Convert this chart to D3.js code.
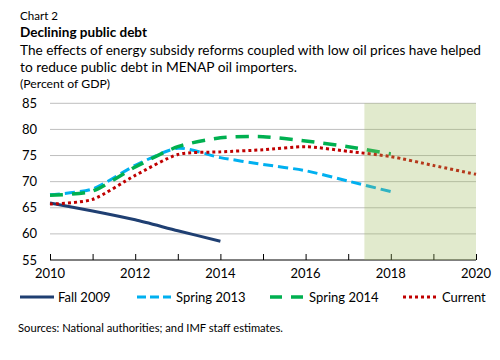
<!DOCTYPE html>
<html>
<head>
<meta charset="utf-8">
<script src="https://cdn.jsdelivr.net/npm/d3@7"></script>
<style>
  body { margin: 0; background: #fff; }
  svg text { font-family: Lato, "Open Sans", sans-serif; fill: #000; }
</style>
</head>
<body>
<svg id="chart" width="500" height="360"></svg>
<script>
// values
let years = [2010, 2011, 2012, 2013, 2014, 2015, 2016, 2017, 2018, 2019, 2020];
let fall2009 = [65.9, 64.4, 62.7, 60.6, 58.6];
let spring2013 = [67.5, 68.6, 73.1, 76.4, 74.6, 73.3, 72.1, 70.1, 68.1];
let spring2014 = [67.4, 68.2, 72.8, 76.7, 78.4, 78.6, 77.8, 76.7, 75.3];
let current = [65.7, 66.6, 71.2, 75.2, 75.7, 76.1, 76.7, 75.8, 74.8, 73.1, 71.4];
let yTicks = [55, 60, 65, 70, 75, 80, 85];
let xLabels = [2010, 2012, 2014, 2016, 2018, 2020];
let shadeStart = 2017.38;

let seriesNames = ['Fall 2009', 'Spring 2013', 'Spring 2014', 'Current'];
let seriesColors = ['#1F3F72', '#00B0F0', '#00B050', '#C00000'];
let seriesDash = [null, '10,5', '13,9', '3,3'];
let seriesWidth = [3, 3, 3.5, 3];

let svg = d3.select('#chart');

let x = d3.scaleLinear().domain([2010, 2020]).range([50, 476]);
let y = d3.scaleLinear().domain([55, 85]).range([260, 103.3]);

// heading texts: shrink the font until it fits the reference width, then pin it
function fitText(sel, width) {
  let w = sel.node().getComputedTextLength();
  if (w > width) {
    let fs = parseFloat(sel.style('font-size'));
    sel.style('font-size', Math.max(fs * width / w, fs * 0.93) + 'px');
  }
  sel.attr('textLength', width).attr('lengthAdjust', 'spacingAndGlyphs');
}

let heads = [
  {t: 'Chart 2', y: 20, w: 38, bold: false, fs: 12.5},
  {t: 'Declining public debt', y: 37, w: 127, bold: true, fs: 14.5},
  {t: 'The effects of energy subsidy reforms coupled with low oil prices have helped', y: 55, w: 461, bold: false, fs: 14.5},
  {t: 'to reduce public debt in MENAP oil importers.', y: 72, w: 277, bold: false, fs: 14.5},
  {t: '(Percent of GDP)', y: 87.5, w: 90, bold: false, fs: 12.5}
];
heads.forEach(h => {
  let t = svg.append('text')
    .attr('x', 20).attr('y', h.y)
    .style('font-size', h.fs + 'px')
    .style('font-weight', h.bold ? 'bold' : 'normal')
    .text(h.t);
  fitText(t, h.w);
});

// gridlines
svg.append('g')
  .selectAll('line.grid')
  .data(yTicks.filter(d => d > 55))
  .enter()
  .append('line')
  .attr('class', 'grid')
  .attr('x1', x(2010)).attr('x2', x(2020))
  .attr('y1', d => y(d)).attr('y2', d => y(d))
  .style('stroke', '#BFBFBF')
  .style('stroke-width', 1);

// y labels
svg.append('g')
  .selectAll('text.ylab')
  .data(yTicks)
  .enter()
  .append('text')
  .attr('class', 'ylab')
  .attr('x', 37)
  .attr('y', d => y(d))
  .attr('dy', '0.35em')
  .attr('text-anchor', 'end')
  .style('font-size', '13px')
  .text(d => d);

// x axis, ticks pointing up
let xAxis = d3.axisTop(x)
  .tickValues(years)
  .tickSize(6)
  .tickFormat('');
svg.append('g')
  .attr('transform', 'translate(0,260)')
  .call(xAxis)
  .call(g => g.select('.domain').attr('d', `M${x(2010)},0H${x(2020)}`).style('stroke', '#000'))
  .call(g => g.selectAll('.tick line').style('stroke', '#000'));

svg.append('g')
  .selectAll('text.xlab')
  .data(xLabels)
  .enter()
  .append('text')
  .attr('class', 'xlab')
  .attr('x', d => x(d))
  .attr('y', 278)
  .attr('text-anchor', 'middle')
  .style('font-size', '13px')
  .text(d => d);

// lines
let allSeries = [fall2009, spring2013, spring2014, current];
let line = d3.line()
  .x((d, i) => x(years[i]))
  .y(d => y(d))
  .curve(d3.curveCardinal.tension(0.3));

svg.append('g')
  .selectAll('path.series')
  .data(allSeries)
  .enter()
  .append('path')
  .attr('class', 'series')
  .attr('d', d => line(d))
  .style('fill', 'none')
  .style('stroke', (d, i) => seriesColors[i])
  .style('stroke-width', (d, i) => seriesWidth[i])
  .style('stroke-dasharray', (d, i) => seriesDash[i])
  .style('stroke-linecap', 'butt');

// projection shading, drawn over the lines
svg.append('rect')
  .attr('x', x(shadeStart))
  .attr('y', y(85))
  .attr('width', x(2020) - x(shadeStart))
  .attr('height', y(55) - y(85))
  .style('fill', '#9BBB59')
  .style('fill-opacity', 0.3);

// legend
let legX = [20, 137, 270, 403];
let legY = 297;
let leg = svg.append('g')
  .selectAll('g.leg')
  .data(seriesNames)
  .enter()
  .append('g')
  .attr('class', 'leg')
  .attr('transform', (d, i) => `translate(${legX[i]},${legY})`);

leg.append('line')
  .attr('x1', 0).attr('x2', 34)
  .attr('y1', 0).attr('y2', 0)
  .style('stroke', (d, i) => seriesColors[i])
  .style('stroke-width', (d, i) => seriesWidth[i])
  .style('stroke-dasharray', (d, i) => i == 1 ? '9,4' : (i == 2 ? '12,9' : seriesDash[i]));

leg.append('text')
  .attr('x', (d, i) => i == 0 ? 38 : 39)
  .attr('y', 0)
  .attr('dy', '0.35em')
  .style('font-size', '13px')
  .text(d => d);

let src = svg.append('text')
  .attr('x', 18).attr('y', 332)
  .style('font-size', '12.5px')
  .text('Sources: National authorities; and IMF staff estimates.');
fitText(src, 265);
</script>
</body>
</html>
